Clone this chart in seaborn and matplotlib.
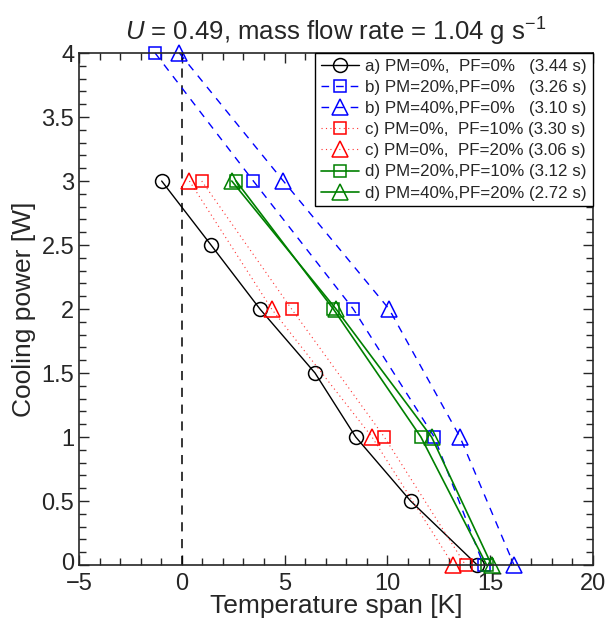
import matplotlib
matplotlib.use("Agg")
import matplotlib.pyplot as plt
import matplotlib.transforms as mtransforms
import seaborn as sns
import pandas as pd
from matplotlib.ticker import MultipleLocator, FuncFormatter

# ---- data ----
a_x = [-0.98, 1.42, 3.80, 6.48, 8.46, 11.13, 14.37]
a_y = [3.0, 2.5, 2.0, 1.5, 1.0, 0.5, 0.0]

b20_x = [-1.30, 3.48, 8.34, 12.28, 14.68]
b20_y = [4.0, 3.0, 2.0, 1.0, 0.0]

b40_x = [-0.12, 4.94, 10.08, 13.53, 16.16]
b40_y = [4.0, 3.0, 2.0, 1.0, 0.0]

c10_x = [0.97, 5.34, 9.85, 13.80]
c10_y = [3.0, 2.0, 1.0, 0.0]

c20_x = [0.37, 4.37, 9.25, 13.20]
c20_y = [3.0, 2.0, 1.0, 0.0]

d10_x = [2.64, 7.37, 11.63, 14.83]
d10_y = [3.0, 2.0, 1.0, 0.0]

d20_x = [2.43, 7.50, 12.15, 15.07]
d20_y = [3.0, 2.0, 1.0, 0.0]

labels = [
    "a) PM=0%,  PF=0%   (3.44 s)",
    "b) PM=20%,PF=0%   (3.26 s)",
    "b) PM=40%,PF=0%   (3.10 s)",
    "c) PM=0%,  PF=10% (3.30 s)",
    "c) PM=0%,  PF=20% (3.06 s)",
    "d) PM=20%,PF=10% (3.12 s)",
    "d) PM=40%,PF=20% (2.72 s)",
]

sns.set_style("ticks")
plt.rcParams["font.family"] = ["Liberation Sans", "DejaVu Sans"]
plt.rcParams["mathtext.fontset"] = "custom"
plt.rcParams["mathtext.rm"] = "Liberation Sans"
plt.rcParams["mathtext.it"] = "Liberation Sans:italic"

fig = plt.figure(figsize=(6.06, 6.23), dpi=100)
ax = fig.add_axes([0.1304, 0.0931, 0.8481, 0.8218])

series = [
    (a_x, a_y, "black", "-", "o", 1.0, 10),
    (b20_x, b20_y, "blue", (0, (5.5, 5)), "s", 1.0, 8.5),
    (b40_x, b40_y, "blue", (0, (5.5, 5)), "^", 1.0, 11),
    (c10_x, c10_y, "#ff3030", (0, (1, 3)), "s", 0.8, 8.5),
    (c20_x, c20_y, "#ff3030", (0, (1, 3)), "^", 0.8, 11),
    (d10_x, d10_y, "green", "-", "s", 1.2, 8.5),
    (d20_x, d20_y, "green", "-", "^", 1.2, 11),
]

for (xs, ys, col, ls, mk, lw, ms), lab in zip(series, labels):
    df = pd.DataFrame({"x": xs, "y": ys})
    mec = "red" if col == "#ff3030" else col
    sns.lineplot(data=df, x="x", y="y", ax=ax, sort=False, color=col,
                 linestyle=ls, linewidth=lw, marker=mk, markersize=ms,
                 markerfacecolor="none", markeredgecolor=mec,
                 markeredgewidth=1.1, label=lab, clip_on=False)

ax.axvline(0, color="black", linestyle=(0, (6, 5)), linewidth=1.1, zorder=1)

ax.set_xlim(-5, 20)
ax.set_ylim(0, 4)
ax.xaxis.set_major_locator(MultipleLocator(5))
ax.xaxis.set_minor_locator(MultipleLocator(1))
ax.yaxis.set_major_locator(MultipleLocator(0.5))
ax.yaxis.set_minor_locator(MultipleLocator(0.1))
ax.xaxis.set_major_formatter(FuncFormatter(
    lambda v, p: ("\u2212" if v < 0 else "") + f"{abs(v):g}"))
ax.yaxis.set_major_formatter(FuncFormatter(lambda v, p: f"{v:g}"))
ax.tick_params(which="both", direction="in", top=True, right=True,
               labelsize=17, width=1)
ax.tick_params(axis="y", pad=3.5)
ax.tick_params(axis="x", pad=6)
ax.tick_params(which="major", length=7.2)
ax.tick_params(which="minor", length=4.8)
for s in ax.spines.values():
    s.set_linewidth(1.2)

ax.set_xlabel("Temperature span [K]", fontsize=19, labelpad=-1)
ax.set_ylabel("Cooling power [W]", fontsize=19, labelpad=4)
ax.set_title(r"$U$ = 0.49, mass flow rate = 1.04 g s$^{-1}$", fontsize=18.5, pad=9)

# nudge the y "0" label slightly up so it does not touch the x "-5" label
fig.canvas.draw()
for t in ax.yaxis.get_majorticklabels():
    if t.get_text() == "0":
        t.set_transform(t.get_transform() +
                        mtransforms.ScaledTranslation(0, 3 / 100, fig.dpi_scale_trans))

leg = ax.legend(loc="upper right", fontsize=12.2, frameon=True, fancybox=False,
                borderaxespad=0, handlelength=2.3, handletextpad=0.35,
                labelspacing=0.36, borderpad=0.35)
leg.get_frame().set_edgecolor("black")
leg.get_frame().set_linewidth(1.0)
leg.get_frame().set_alpha(1)

fig.savefig("out.png", dpi=100)
